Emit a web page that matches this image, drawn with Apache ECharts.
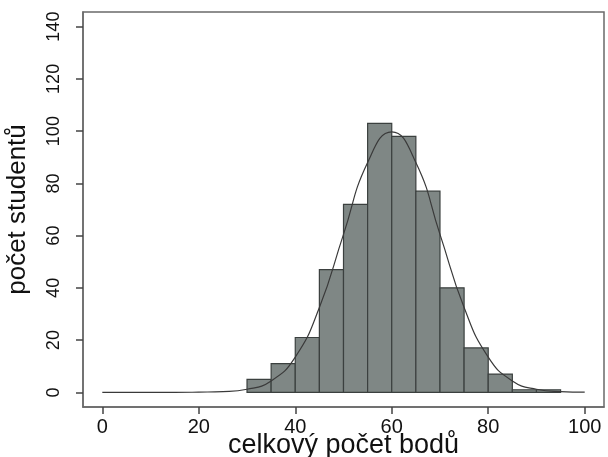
<!DOCTYPE html>
<html>
<head>
<meta charset="utf-8">
<script src="https://cdn.jsdelivr.net/npm/echarts@6/dist/echarts.min.js"></script>
<style>
  html, body { margin: 0; padding: 0; background: #fff; }
  #main { width: 608px; height: 457px; }
</style>
</head>
<body>
<div id="main"></div>
<script>
// bin edges (width 5) and student counts
const binStarts = [30, 35, 40, 45, 50, 55, 60, 65, 70, 75, 80, 85, 90];
const binWidth = 5;
const counts = [5, 11, 21, 47, 72, 103, 98, 77, 40, 17, 7, 1, 1];

// fitted curve, read at every 5 points
const curveX = [0, 5, 10, 15, 20, 25, 30, 35, 40, 45, 50, 55, 60, 65, 70, 75, 80, 85, 90, 95, 100];
const curveY = [0, 0, 0, 0, 0.1, 0.3, 1.2, 4.4, 13.5, 32.5, 60.5, 88, 99.7, 88, 60.5, 32.5, 13.5, 4.4, 1.2, 0.3, 0.1];

const xTicks = [0, 20, 40, 60, 80, 100];
const yTicks = [0, 20, 40, 60, 80, 100, 120, 140];

const font = '"Liberation Sans", Arial, Helvetica, sans-serif';

const myChart = echarts.init(document.getElementById('main'));

const bars = binStarts.map((s, i) => [s, s + binWidth, counts[i]]);
const curve = curveX.map((x, i) => [x, curveY[i]]);

const option = {
    animation: false,
    grid: {
        left: 83, top: 12, right: 4, bottom: 50,
        outerBoundsMode: 'none',
        containLabel: false,
        show: true, borderColor: '#6a6a6a', borderWidth: 1.5, backgroundColor: 'transparent'
    },
    xAxis: {
        type: 'value',
        min: -4, max: 104,
        splitLine: { show: false },
        axisLine: { show: true, onZero: false, lineStyle: { color: '#6a6a6a', width: 1.5 } },
        axisTick: { show: true, inside: false, length: 7, customValues: xTicks, lineStyle: { color: '#444', width: 1.5 } },
        axisLabel: { customValues: xTicks, margin: 10, fontSize: 20, color: '#111', fontFamily: font },
        name: 'celkový počet bodů',
        nameLocation: 'middle',
        nameGap: 25,
        nameMoveOverlap: false,
        nameTextStyle: { fontSize: 27, color: '#111', fontFamily: font }
    },
    yAxis: {
        type: 'value',
        min: -5.6, max: 145.6,
        splitLine: { show: false },
        axisLine: { show: true, onZero: false, lineStyle: { color: '#6a6a6a', width: 1.5 } },
        axisTick: { show: true, inside: false, length: 7, customValues: yTicks, lineStyle: { color: '#444', width: 1.5 } },
        axisLabel: { customValues: yTicks, rotate: 90, margin: 20, fontSize: 18, color: '#111', fontFamily: font },
        name: 'počet studentů',
        nameLocation: 'middle',
        nameGap: 52,
        nameMoveOverlap: false,
        nameTextStyle: { fontSize: 26, color: '#111', fontFamily: font }
    },
    series: [
        {
            name: 'histogram',
            type: 'custom',
            data: bars,
            encode: { x: [0, 1], y: 2 },
            renderItem: function (params, api) {
                const p0 = api.coord([api.value(0), 0]);
                const p1 = api.coord([api.value(1), api.value(2)]);
                return {
                    type: 'rect',
                    shape: { x: p0[0], y: p1[1], width: p1[0] - p0[0], height: p0[1] - p1[1] },
                    style: { fill: '#7f8785', stroke: '#3b403f', lineWidth: 1.2 }
                };
            }
        },
        {
            name: 'curve',
            type: 'line',
            data: curve,
            smooth: true,
            showSymbol: false,
            lineStyle: { color: '#3a3a3a', width: 1.2 },
            z: 5
        }
    ]
};

option && myChart.setOption(option);
</script>
</body>
</html>
